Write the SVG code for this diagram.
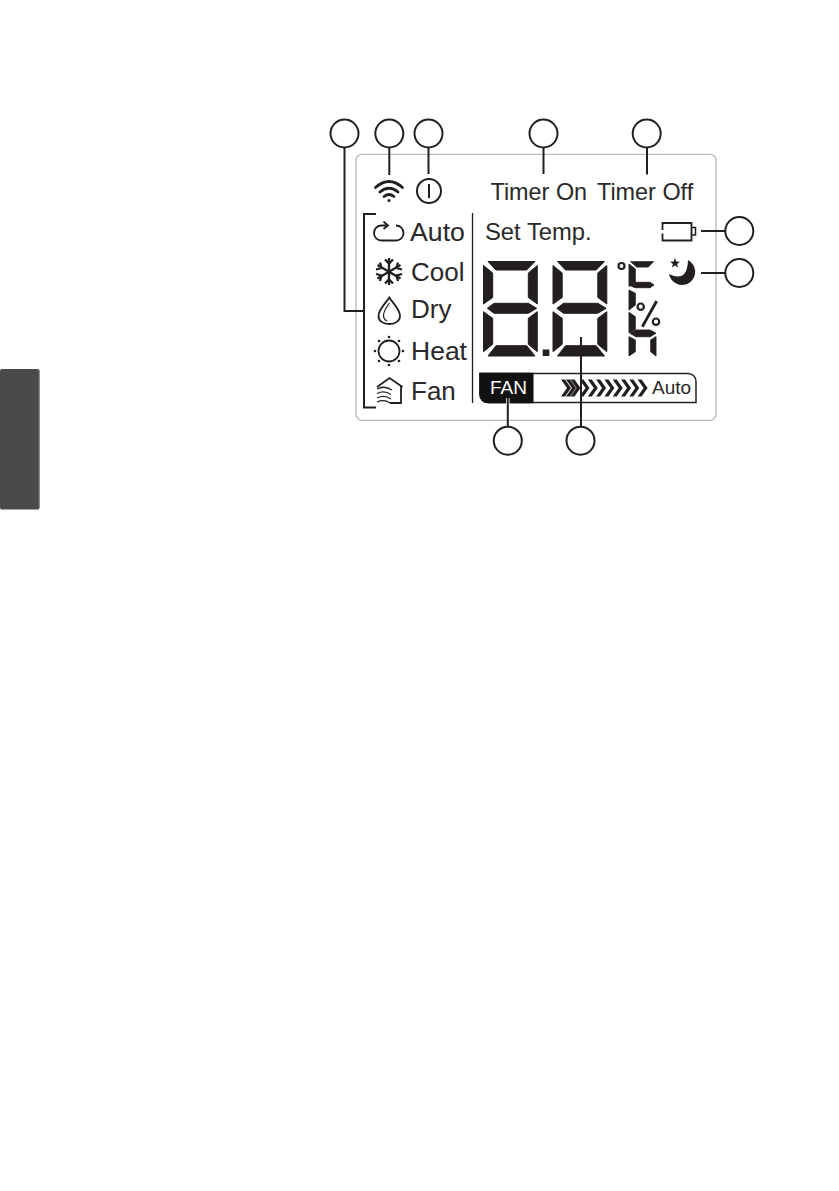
<svg xmlns="http://www.w3.org/2000/svg" xmlns:xlink="http://www.w3.org/1999/xlink" width="839" height="1191" viewBox="0 0 839 1191">
<style>
text{font-family:"Liberation Sans",Arial,sans-serif;fill:#2a2829}
.m{font-size:26px}
.t{font-size:23.400px}
.c{fill:#fff;stroke:#231f20;stroke-width:2}
.l{fill:none;stroke:#231f20;stroke-width:2}
.i{fill:none;stroke:#231f20;stroke-width:1.800}
.s{fill:#231f20}
</style>
<defs>
<g id="digit" class="s" stroke="#231f20" stroke-width="1" stroke-linejoin="round">
<polygon points="4,0.500 51,0.500 42.700,9 12,9"/>
<polygon points="-0.500,4.500 8.700,12 8.700,36.500 -0.500,43"/>
<polygon points="53.300,4.500 44.300,12 44.300,36.500 53.300,43"/>
<polygon points="3.300,47.300 10,42.300 44.300,42.300 52.700,47.300 44.300,52.300 10,52.300"/>
<polygon points="-0.500,50.700 8.700,57.300 8.700,83.300 -0.500,90.700"/>
<polygon points="53.300,50.700 44.300,57.300 44.300,83.300 53.300,90.700"/>
<polygon points="12,84.700 42.700,84.700 51,95 4,95"/>
</g>
<polygon id="chev" class="s" points="0,379.500 4,379.500 10,388 4,396.500 0,396.500 6,388"/>
</defs>
<g id="side-tab">
<rect x="0" y="369" width="39.500" height="140.500" rx="2" fill="#4b4a4a"/>
<path d="M39 370V508" stroke="#777" stroke-width="1"/>
</g>
<rect id="panel" x="356" y="154.300" width="360" height="266" rx="6" fill="#fff" stroke="#ababab" stroke-width="1.100"/>
<g id="divider"><path d="M472.500 213V403" stroke="#231f20" stroke-width="1.300"/></g>
<g id="wifi" fill="none" stroke="#231f20" stroke-width="2.800" stroke-linecap="round">
<path d="M375.500 187.500Q389 175.500 402.500 187.500"/>
<path d="M380 192Q389 184.500 398 192"/>
<path d="M384 196.500Q389 192.500 394 196.500"/>
<circle cx="389" cy="200.500" r="1.500" fill="#231f20" stroke="none"/>
</g>
<g id="power"><circle class="l" cx="429" cy="191" r="12"/><path class="l" d="M429 184V198"/></g>
<g id="timer-on"><text class="t" x="490.500" y="200">Timer On</text></g>
<g id="timer-off"><text class="t" x="597" y="200">Timer Off</text></g>
<g id="set-temp"><text x="485" y="240" style="font-size:23.800px">Set Temp.</text></g>
<g id="auto">
<path class="i" d="M387 225.500H381.500A7.500 7.500 0 0 0 381.500 240.500H396A7.500 7.500 0 0 0 396 225.500"/>
<path class="i" d="M383.500 221.500L388 225.500L383.500 229"/>
<text class="m" x="410" y="241" style="font-size:26.700px">Auto</text>
</g>
<g id="cool">
<g fill="none" stroke="#231f20" stroke-width="2.300">
<path d="M389 258V285M377.500 265L400.500 278.500M400.500 265L377.500 278.500"/>
<path d="M385 259.500L389 263.500L393 259.500M385 283.500L389 279.500L393 283.500M376 269.500L381.500 268L380 262.500M402 274L396.500 275.500L398 281M402 269.500L396.500 268L398 262.500M376 274L381.500 275.500L380 281"/>
</g>
<text class="m" x="411" y="281">Cool</text>
</g>
<g id="dry">
<path class="i" d="M389.300 297.500C386 303 378.500 309 378.500 316C378.500 321 383 324 389.300 324C395.500 324 400 321 400 316C400 309 392.500 303 389.300 297.500Z"/>
<path class="i" style="stroke-width:1.200" d="M389.500 303C386.500 307 383.500 311 383.500 315.500C383.500 318 385 320 387 321"/>
<text class="m" x="411" y="318">Dry</text>
</g>
<g id="heat">
<circle class="i" cx="389" cy="351" r="10.500"/>
<g class="s">
<circle cx="389" cy="337" r="1.300"/><circle cx="389" cy="365" r="1.300"/><circle cx="375" cy="351" r="1.300"/><circle cx="403" cy="351" r="1.300"/>
<circle cx="379" cy="341" r="1.300"/><circle cx="399" cy="341" r="1.300"/><circle cx="379" cy="361" r="1.300"/><circle cx="399" cy="361" r="1.300"/>
</g>
<text class="m" x="411" y="360" style="font-size:26.500px">Heat</text>
</g>
<g id="fan">
<path class="i" d="M377 387L389.500 378L402.500 387M401 386V403H390"/>
<path class="i" style="stroke-width:1.300" d="M377 389Q384 385 392 390M377 393.500Q384 390 391 394.500M377 398Q384 394.500 391 399M377 402Q384 399 390 403"/>
<text class="m" x="411" y="400">Fan</text>
</g>
<g id="lcd-digits">
<use xlink:href="#digit" href="#digit" x="484" y="261"/>
<use xlink:href="#digit" href="#digit" x="553.500" y="261"/>
<rect class="s" x="542.700" y="349.500" width="6.600" height="6.500"/>
</g>
<g id="lcd-units" class="s">
<circle cx="621.500" cy="266" r="3" fill="none" stroke="#231f20" stroke-width="2.200"/>
<g stroke="#231f20" stroke-width="0.900" stroke-linejoin="round">
<polygon points="630.700,261.700 653.500,261.700 648.300,267 636.700,267"/>
<polygon points="629,264 635.300,269 635.300,281.700 629,286.500"/>
<polygon points="630,285.500 635,282.300 650,282.300 654,285 650,287.700 635,287.700"/>
<polygon points="629,290 635.300,293.300 635.300,305 629,310"/>
<polygon points="629,312.300 635.300,316.700 635.300,329.500 629,333"/>
<polygon points="630,333.300 636,330 650,330 656,333.300 650,336.700 636,336.700"/>
<polygon points="629,336.700 635.300,340 635.300,351.700 629,356"/>
<polygon points="656,336.700 650.700,340 650.700,351.700 656,356"/>
</g>
<path d="M656.700 301L642.300 326.700" fill="none" stroke="#231f20" stroke-width="2.800"/>
<circle cx="640.700" cy="306.700" r="3.200" fill="none" stroke="#231f20" stroke-width="2.200"/>
<circle cx="656" cy="321.700" r="3.200" fill="none" stroke="#231f20" stroke-width="2.200"/>
</g>
<g id="battery">
<path class="i" d="M662.500 230V223H691.500V240.500H662.500V233.500"/>
<path class="i" style="stroke-width:1.500" d="M691.500 227.500H695.500V235H691.500"/>
</g>
<g id="sleep" class="s">
<path d="M688 260A13.200 13.200 0 1 1 669 274Q687.500 283 688 260Z"/>
<polygon points="675,258 676.300,261.600 680,261.700 677.100,264 678.100,267.600 675,265.500 671.900,267.600 672.900,264 670,261.700 673.700,261.600"/>
</g>
<g id="fan-bar">
<path d="M480 373.500H688A8 8 0 0 1 696 381.500V402.500H488A8 8 0 0 1 480 394.500Z" fill="#fff" stroke="#231f20" stroke-width="1.500"/>
<path d="M479.300 372.800H533.500V403.200H488A8.700 8.700 0 0 1 479.300 394.500Z" fill="#111"/>
<text x="490" y="394" font-size="19" style="fill:#fff">FAN</text>
<use xlink:href="#chev" href="#chev" x="561"/>
<use xlink:href="#chev" href="#chev" x="566"/>
<use xlink:href="#chev" href="#chev" x="570.500"/>
<use xlink:href="#chev" href="#chev" x="579.500"/>
<use xlink:href="#chev" href="#chev" x="587.800"/>
<use xlink:href="#chev" href="#chev" x="596.100"/>
<use xlink:href="#chev" href="#chev" x="604.400"/>
<use xlink:href="#chev" href="#chev" x="612.700"/>
<use xlink:href="#chev" href="#chev" x="621"/>
<use xlink:href="#chev" href="#chev" x="629.300"/>
<use xlink:href="#chev" href="#chev" x="637.600"/>
<text x="652" y="394" font-size="19">Auto</text>
</g>
<path d="M507.800 398V404" stroke="#fff" stroke-width="3.500"/>
<g id="connectors" class="l">
<path d="M344.500 147.500V311H364"/>
<path d="M376 214H364V407.500H376"/>
<path d="M389.300 147.500V175"/>
<path d="M428.500 147.500V174"/>
<path d="M543.500 147.500V174"/>
<path d="M647 147.500V174.500"/>
<path d="M701 231H725.500"/>
<path d="M701 273H725.500"/>
<path d="M507.800 398V427"/>
<path d="M581 337V427"/>
</g>
<g id="callouts">
<circle id="c1" class="c" cx="344.500" cy="133.500" r="14"/>
<circle id="c2" class="c" cx="389.300" cy="133.500" r="14"/>
<circle id="c3" class="c" cx="428.500" cy="133.500" r="14"/>
<circle id="c4" class="c" cx="543.500" cy="133.500" r="14"/>
<circle id="c5" class="c" cx="646.700" cy="133.500" r="14"/>
<circle id="c6" class="c" cx="739.300" cy="231" r="14"/>
<circle id="c7" class="c" cx="739.300" cy="273" r="14"/>
<circle id="c8" class="c" cx="507.800" cy="440.700" r="14"/>
<circle id="c9" class="c" cx="580.500" cy="440.700" r="14"/>
</g>
</svg>
